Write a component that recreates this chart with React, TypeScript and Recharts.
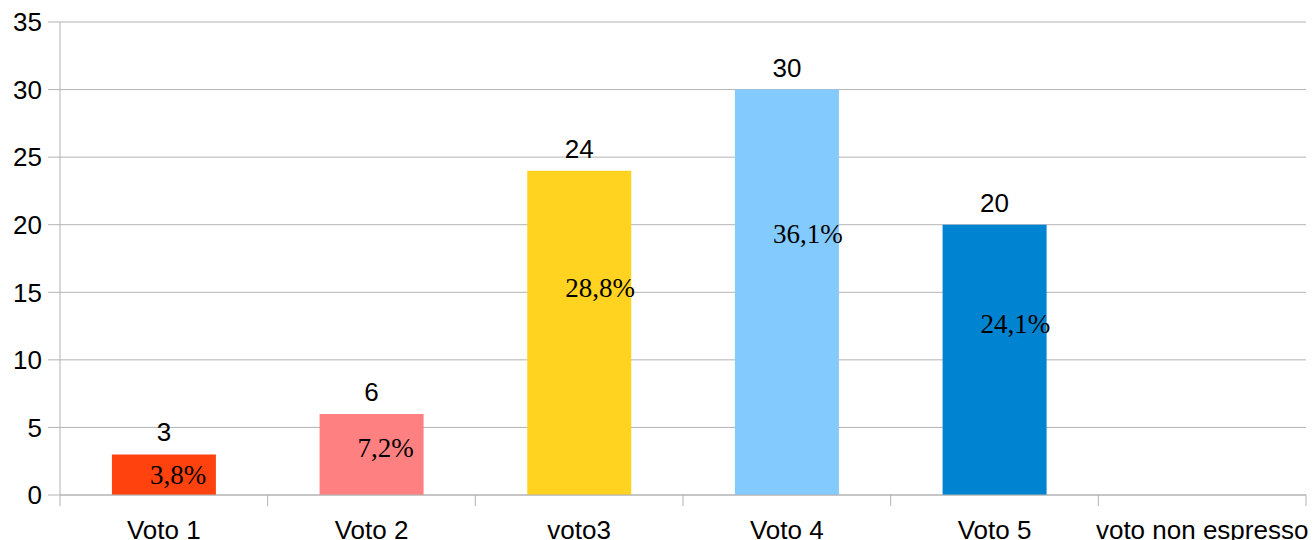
import { BarChart, Bar, XAxis, YAxis, CartesianGrid, Cell, LabelList } from 'recharts';

const categories = ['Voto 1', 'Voto 2', 'voto3', 'Voto 4', 'Voto 5', 'voto non espresso'];
const votes = [3, 6, 24, 30, 20, null];
const shares = ['3,8%', '7,2%', '28,8%', '36,1%', '24,1%', null];
const barColors = ['#ff420e', '#ff8080', '#ffd320', '#83caff', '#0084d1', '#004586'];
const yTicks = [0, 5, 10, 15, 20, 25, 30, 35];

const W = 1313;
const H = 540;
const MARGIN = { top: 22, right: 7, left: 0, bottom: 0 };
const Y_WIDTH = 60;
const GRID = '#b3b3b3';
const SANS = '"Liberation Sans", Arial, sans-serif';
const SERIF = '"Liberation Serif", "Times New Roman", serif';
const band = (W - MARGIN.left - MARGIN.right - Y_WIDTH) / categories.length;

const data = categories.map((name, i) => ({ name, votes: votes[i], pct: shares[i] }));

function CategoryTick(props: any) {
  const { x, y, payload, index } = props;
  const last = index === categories.length - 1;
  return (
    <g>
      <line x1={x - band / 2} y1={y} x2={x - band / 2} y2={y + 11} stroke={GRID} />
      {last && <line x1={x + band / 2} y1={y} x2={x + band / 2} y2={y + 11} stroke={GRID} />}
      <text x={x} y={y + 44} textAnchor="middle" fontFamily={SANS} fontSize={26} fill="#000">
        {payload.value}
      </text>
    </g>
  );
}

function ValueLabel(props: any) {
  const { x, y, width, value } = props;
  if (value == null) return null;
  return (
    <text x={x + width / 2} y={y - 13} textAnchor="middle" fontFamily={SANS} fontSize={26} fill="#000">
      {value}
    </text>
  );
}

// percent labels sit roughly a third of the way down each bar, slightly right of centre
function ShareLabel(props: any) {
  const { x, y, height, value } = props;
  if (value == null) return null;
  return (
    <text x={x + 38} y={y + height * 0.34 + 16} textAnchor="start" fontFamily={SERIF} fontSize={27} fill="#000">
      {value}
    </text>
  );
}

export default function App() {
  return (
    <div style={{ position: 'absolute', left: 0, top: 0, width: W, height: H, background: '#fff' }}>
      <BarChart width={W} height={H} data={data} margin={MARGIN} barCategoryGap="25%">
        <CartesianGrid vertical={false} stroke={GRID} />
        <XAxis
          dataKey="name"
          height={45}
          axisLine={{ stroke: GRID }}
          tickLine={false}
          tickSize={0}
          tickMargin={0}
          interval={0}
          tick={<CategoryTick />}
        />
        <YAxis
          width={Y_WIDTH}
          domain={[0, 35]}
          ticks={yTicks}
          axisLine={{ stroke: GRID }}
          tickLine={{ stroke: GRID }}
          tickSize={12}
          tickMargin={6}
          tick={{ fill: '#000', fontSize: 26, fontFamily: SANS }}
        />
        <YAxis
          yAxisId="right"
          orientation="right"
          width={0}
          domain={[0, 35]}
          tick={false}
          tickLine={false}
          axisLine={{ stroke: GRID }}
        />
        <Bar dataKey="votes" isAnimationActive={false}>
          {data.map((d, i) => (
            <Cell key={d.name} fill={barColors[i]} />
          ))}
          <LabelList dataKey="votes" content={<ValueLabel />} />
          <LabelList dataKey="pct" content={<ShareLabel />} />
        </Bar>
      </BarChart>
    </div>
  );
}
